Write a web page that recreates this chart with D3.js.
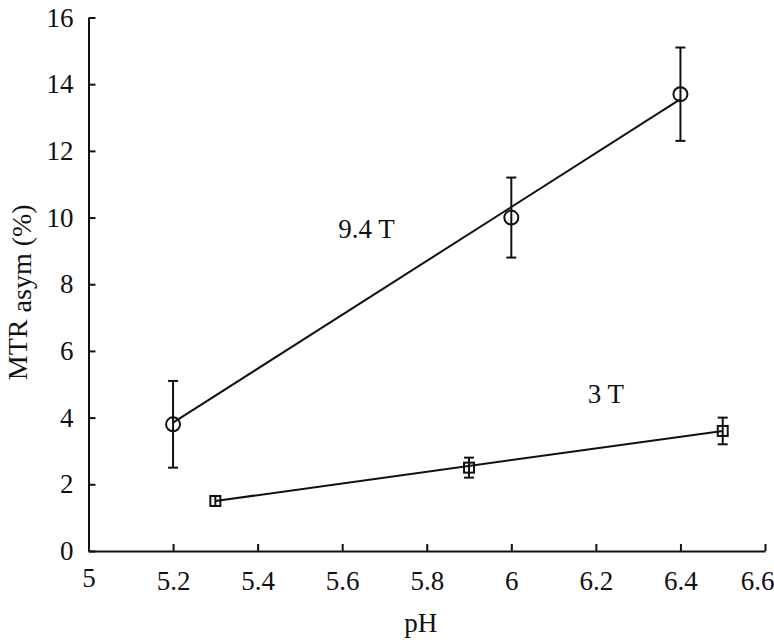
<!DOCTYPE html>
<html>
<head>
<meta charset="utf-8">
<script src="https://cdn.jsdelivr.net/npm/d3@7"></script>
<style>
  body { margin: 0; background: #fff; }
  text { font-family: "Liberation Serif", "Times New Roman", serif; fill: #111; }
</style>
</head>
<body>
<div id="chart"></div>
<script>
// data
var ph94 = [5.2, 6.0, 6.4];
var mtr94 = [3.8, 10.0, 13.7];
var err94 = [1.3, 1.2, 1.4];
var fit94 = [[5.2, 3.85], [6.4, 13.55]];

var ph3 = [5.3, 5.9, 6.5];
var mtr3 = [1.5, 2.5, 3.6];
var err3 = [0.15, 0.3, 0.4];
var fit3 = [[5.3, 1.5], [6.5, 3.6]];

var xTicks = [5, 5.2, 5.4, 5.6, 5.8, 6, 6.2, 6.4, 6.6];
var yTicks = [0, 2, 4, 6, 8, 10, 12, 14, 16];

var width = 774,
  height = 642;

var margin = { top: 17.5, right: 9, bottom: 91, left: 88.5 };

var svg = d3.select('#chart')
  .append('svg')
  .attr('width', width)
  .attr('height', height);

var w = width - margin.left - margin.right,
  h = height - margin.top - margin.bottom;

var g = svg.append('g')
  .attr('transform', 'translate(' + margin.left + ',' + margin.top + ')');

var xScale = d3.scaleLinear().domain([5, 6.6]).range([0, w]);
var yScale = d3.scaleLinear().domain([0, 16]).range([h, 0]);

// axes, ticks pointing inward
var xAxis = g.append('g')
  .attr('transform', 'translate(0,' + h + ')')
  .call(d3.axisBottom(xScale)
    .tickValues(xTicks)
    .tickSizeInner(-7)
    .tickSizeOuter(0)
    .tickPadding(20)
    .tickFormat(d3.format('')));

var yAxis = g.append('g')
  .call(d3.axisLeft(yScale)
    .tickValues(yTicks)
    .tickSizeInner(-7)
    .tickSizeOuter(0)
    .tickPadding(15)
    .tickFormat(d3.format('')));

g.selectAll('.domain, .tick line')
  .attr('stroke', '#111')
  .attr('stroke-width', 2);

g.selectAll('.tick text')
  .attr('font-size', 27)
  .attr('fill', '#111');

xAxis.selectAll('.tick text').attr('dy', '0.71em');
// first x label sits a little higher, last one is pulled in from the edge
xAxis.selectAll('.tick').filter(function(d) { return d === 5; })
  .select('text').attr('y', 17);
xAxis.selectAll('.tick').filter(function(d) { return d === 6.6; })
  .select('text').attr('dx', -8);

// axis titles
svg.append('text')
  .attr('x', margin.left + xScale(5.8) - 6)
  .attr('y', 632)
  .attr('text-anchor', 'middle')
  .attr('font-size', 27)
  .text('pH');

var yLab = svg.append('text')
  .attr('transform', 'translate(27,' + (margin.top + h / 2 + 8) + ') rotate(-90)')
  .attr('text-anchor', 'middle')
  .attr('font-size', 28);
yLab.append('tspan').text('MTR');
yLab.append('tspan').attr('dy', 4).text('\u00a0asym (%)');

var line = d3.line()
  .x(function(d) { return xScale(d[0]); })
  .y(function(d) { return yScale(d[1]); });

function drawSeries(xs, ys, es, fit, shape) {
  g.append('path')
    .datum(fit)
    .attr('d', line)
    .attr('fill', 'none')
    .attr('stroke', '#111')
    .attr('stroke-width', 2);

  var pts = xs.map(function(x, i) { return { x: x, y: ys[i], e: es[i] }; });

  var eb = g.append('g').selectAll('g')
    .data(pts)
    .enter()
    .append('g')
    .attr('stroke', '#111')
    .attr('stroke-width', 2);

  eb.append('line')
    .attr('x1', function(d) { return xScale(d.x); })
    .attr('x2', function(d) { return xScale(d.x); })
    .attr('y1', function(d) { return yScale(d.y - d.e); })
    .attr('y2', function(d) { return yScale(d.y + d.e); });

  [-1, 1].forEach(function(s) {
    eb.append('line')
      .attr('x1', function(d) { return xScale(d.x) - 5; })
      .attr('x2', function(d) { return xScale(d.x) + 5; })
      .attr('y1', function(d) { return yScale(d.y + s * d.e); })
      .attr('y2', function(d) { return yScale(d.y + s * d.e); });
  });

  if (shape === 'circle') {
    g.selectAll(null)
      .data(pts)
      .enter()
      .append('circle')
      .attr('cx', function(d) { return xScale(d.x); })
      .attr('cy', function(d) { return yScale(d.y); })
      .attr('r', 7)
      .attr('fill', 'none')
      .attr('stroke', '#111')
      .attr('stroke-width', 2);
  } else {
    g.selectAll(null)
      .data(pts)
      .enter()
      .append('rect')
      .attr('x', function(d) { return xScale(d.x) - 5; })
      .attr('y', function(d) { return yScale(d.y) - 5; })
      .attr('width', 10)
      .attr('height', 10)
      .attr('fill', 'none')
      .attr('stroke', '#111')
      .attr('stroke-width', 2);
  }
}

drawSeries(ph94, mtr94, err94, fit94, 'circle');
drawSeries(ph3, mtr3, err3, fit3, 'square');

// series labels
g.append('text')
  .attr('x', xScale(5.6) - 4)
  .attr('y', yScale(9.4))
  .attr('font-size', 27)
  .text('9.4 T');

g.append('text')
  .attr('x', xScale(6.19) - 4)
  .attr('y', yScale(4.45))
  .attr('font-size', 27)
  .text('3 T');
</script>
</body>
</html>
